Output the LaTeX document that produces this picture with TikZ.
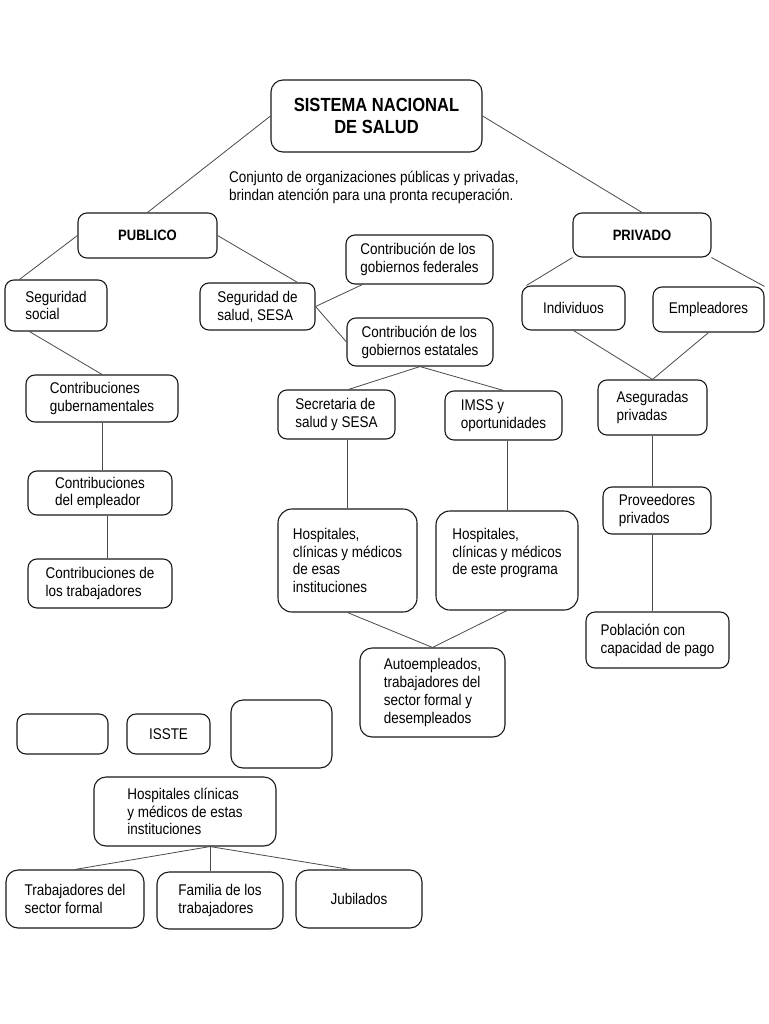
\documentclass[tikz,border=0pt]{standalone}
\usepackage{fontspec}
\setmainfont{Liberation Sans}[FakeStretch=0.87]
\definecolor{BoxBlack}{HTML}{1A1A1A}
\definecolor{LinkGray}{HTML}{4A4A4A}
\newcommand{\heading}[1]{\textbf{#1}}

\begin{document}
\begin{tikzpicture}[x=1pt, y=-1pt,
  every node/.style={font=\fontsize{15.5}{17.8}\selectfont},
  box/.style={draw=BoxBlack, line width=1.1pt, rounded corners=9pt, align=left, inner sep=0pt},
  link/.style={draw=LinkGray, line width=0.8pt}]
\useasboundingbox[fill=white] (0,0) rectangle (768,1024);

% Title
\node[box, rounded corners=12pt, align=center, minimum width=211, minimum height=72,
  font=\fontsize{19}{22}\selectfont] (sns) at (376.5,116) {\heading{SISTEMA NACIONAL}\\\heading{DE SALUD}};
\node[anchor=west, align=left, inner sep=0pt] (desc) at (229,187.5) {Conjunto de organizaciones públicas y privadas,\\brindan atención para una pronta recuperación.};

% Branches
\node[box, align=center, minimum width=139, minimum height=45, font=\fontsize{15}{17}\selectfont] (publico) at (147.5,235.5) {\heading{PUBLICO}};
\node[box, align=center, minimum width=138, minimum height=44, font=\fontsize{15}{17}\selectfont] (privado) at (642,235) {\heading{PRIVADO}};

% Public side
\node[box, minimum width=102, minimum height=51] (segsocial) at (56,305.5) {Seguridad\\social};
\node[box, minimum width=115, minimum height=47] (sesa) at (257.5,306.5) {Seguridad de\\salud, SESA};
\node[box, minimum width=147, minimum height=49] (federales) at (419.5,259.5) {Contribución de los\\gobiernos federales};
\node[box, minimum width=146, minimum height=48] (estatales) at (420,342) {Contribución de los\\gobiernos estatales};
\node[box, minimum width=117, minimum height=49] (secretaria) at (336.5,414.5) {Secretaria de\\salud y SESA};
\node[box, minimum width=117, minimum height=49] (imss) at (503.5,415.5) {IMSS y\\oportunidades};
\node[box, rounded corners=14pt, minimum width=139, minimum height=103] (hospesas) at (347.5,560.5) {Hospitales,\\clínicas y médicos\\de esas\\instituciones};
\node[box, rounded corners=14pt, minimum width=142, minimum height=99, text depth=18pt] (hospeste) at (507,560.5) {Hospitales,\\clínicas y médicos\\de este programa};
\node[box, rounded corners=12pt, minimum width=145, minimum height=89] (autoemp) at (432.5,692.5) {Autoempleados,\\trabajadores del\\sector formal y\\desempleados};

% Contributions
\node[box, minimum width=152, minimum height=47] (gubern) at (102,398.5) {Contribuciones\\gubernamentales};
\node[box, minimum width=144, minimum height=44] (empleador) at (100,493) {Contribuciones\\del empleador};
\node[box, minimum width=144, minimum height=49] (trabaj) at (100,583.5) {Contribuciones de\\los trabajadores};

% Private side
\node[box, align=center, minimum width=103, minimum height=44] (individuos) at (573.5,308) {Individuos};
\node[box, align=center, minimum width=111, minimum height=45] (empleadores) at (708.5,309.5) {Empleadores};
\node[box, minimum width=109, minimum height=55] (aseguradas) at (652.5,407.5) {Aseguradas\\privadas};
\node[box, minimum width=108, minimum height=47] (proveedores) at (657,510.5) {Proveedores\\privados};
\node[box, minimum width=143, minimum height=56] (poblacion) at (657.5,640) {Población con\\capacidad de pago};

% ISSTE group
\node[box, minimum width=91, minimum height=40] (vacio1) at (62.5,734) {};
\node[box, align=center, minimum width=83, minimum height=40] (isste) at (168.5,734) {ISSTE};
\node[box, rounded corners=12pt, minimum width=101, minimum height=68] (vacio2) at (281.5,734) {};
\node[box, rounded corners=12pt, minimum width=182, minimum height=69] (hospinst) at (185,811.5) {Hospitales clínicas\\y médicos de estas\\instituciones};
\node[box, rounded corners=12pt, minimum width=138, minimum height=58] (trabformal) at (75,899) {Trabajadores del\\sector formal};
\node[box, rounded corners=12pt, minimum width=126, minimum height=57] (familia) at (220,900.5) {Familia de los\\trabajadores};
\node[box, rounded corners=12pt, align=center, minimum width=126, minimum height=58] (jubilados) at (359,899) {Jubilados};

% Links
\draw[link] (sns.west) -- (publico.north);
\draw[link] (sns.east) -- (privado.north);
\draw[link] (publico.west) -- ([xshift=15]segsocial.north west);
\draw[link] (publico.east) -- ([xshift=-18]sesa.north east);
\draw[link] (sesa.east) -- ([xshift=17]federales.south west);
\draw[link] (sesa.east) -- (estatales.west);
\draw[link] (estatales.south) -- ([xshift=12]secretaria.north);
\draw[link] (estatales.south) -- (imss.north);
\draw[link] (secretaria.south -| hospesas.north) -- (hospesas.north);
\draw[link] (imss.south -| hospeste.north) -- (hospeste.north);
\draw[link] (hospesas.south) -- (autoemp.north);
\draw[link] (hospeste.south) -- (autoemp.north);

\draw[link] ([xshift=25]segsocial.south west) -- (gubern.north);
\draw[link] (gubern.south) -- (gubern.south |- empleador.north);
\draw[link] ([xshift=7]empleador.south) -- ([xshift=7]trabaj.north);

\draw[link] (privado.south west) -- ([xshift=5]individuos.north west);
\draw[link] (privado.south east) -- (empleadores.north east);
\draw[link] (individuos.south) -- (aseguradas.north);
\draw[link] (empleadores.south) -- (aseguradas.north);
\draw[link] (aseguradas.south) -- (aseguradas.south |- proveedores.north);
\draw[link] (aseguradas.south |- proveedores.south) -- (aseguradas.south |- poblacion.north);

\draw[link] ([xshift=25]hospinst.south) -- (trabformal.north);
\draw[link] ([xshift=25]hospinst.south) -- ([xshift=25]hospinst.south |- familia.north);
\draw[link] ([xshift=25]hospinst.south) -- ([xshift=-9]jubilados.north);
\end{tikzpicture}
\end{document}
